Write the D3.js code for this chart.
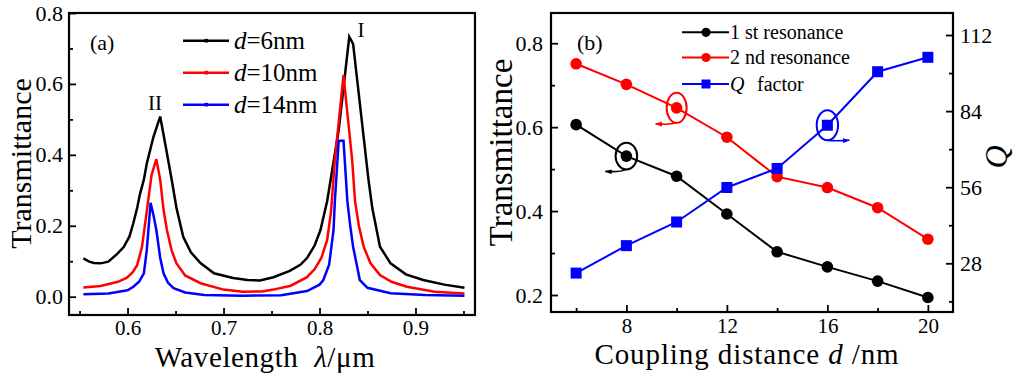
<!DOCTYPE html>
<html><head><meta charset="utf-8">
<script src="https://cdn.jsdelivr.net/npm/d3@7"></script>
<style>
body{margin:0;background:#fff}
svg{display:block}
text{font-family:"Liberation Serif","Times New Roman",serif;fill:#000}
</style>
</head><body>
<svg id="c" width="1024" height="378"></svg>
<script>
// ---------- Panel (a): transmittance spectra [wavelength (um), T] ----------
const spectrumD6 = [[0.554,0.108],[0.560,0.099],[0.565,0.095],[0.572,0.094],[0.580,0.099],[0.589,0.120],[0.596,0.140],[0.602,0.170],[0.606,0.207],[0.610,0.250],[0.613,0.290],[0.617,0.330],[0.620,0.375],[0.627,0.451],[0.634,0.508],[0.640,0.420],[0.646,0.330],[0.651,0.250],[0.658,0.169],[0.666,0.125],[0.676,0.095],[0.690,0.066],[0.710,0.053],[0.725,0.047],[0.738,0.046],[0.752,0.055],[0.769,0.073],[0.780,0.090],[0.787,0.109],[0.795,0.145],[0.801,0.188],[0.808,0.270],[0.820,0.470],[0.831,0.733],[0.835,0.713],[0.851,0.330],[0.855,0.250],[0.863,0.141],[0.874,0.094],[0.890,0.063],[0.908,0.047],[0.930,0.034],[0.951,0.025]];
const spectrumD10 = [[0.554,0.026],[0.572,0.030],[0.590,0.042],[0.599,0.053],[0.605,0.068],[0.610,0.089],[0.615,0.140],[0.620,0.240],[0.625,0.343],[0.630,0.388],[0.634,0.330],[0.6375,0.245],[0.641,0.188],[0.646,0.130],[0.651,0.094],[0.660,0.060],[0.676,0.038],[0.700,0.020],[0.720,0.014],[0.740,0.015],[0.752,0.020],[0.770,0.031],[0.787,0.055],[0.795,0.078],[0.802,0.110],[0.808,0.160],[0.812,0.240],[0.816,0.386],[0.825,0.625],[0.834,0.386],[0.837,0.270],[0.841,0.200],[0.846,0.141],[0.853,0.095],[0.863,0.061],[0.875,0.042],[0.891,0.028],[0.920,0.014],[0.951,0.009]];
const spectrumD14 = [[0.554,0.007],[0.580,0.009],[0.600,0.018],[0.606,0.028],[0.612,0.042],[0.617,0.066],[0.620,0.130],[0.624,0.265],[0.627,0.230],[0.630,0.188],[0.634,0.110],[0.6375,0.066],[0.642,0.040],[0.648,0.024],[0.660,0.012],[0.680,0.005],[0.720,0.003],[0.760,0.004],[0.787,0.016],[0.800,0.034],[0.804,0.047],[0.810,0.090],[0.8146,0.188],[0.816,0.270],[0.820,0.440],[0.825,0.440],[0.829,0.270],[0.832,0.200],[0.835,0.141],[0.842,0.047],[0.850,0.025],[0.874,0.010],[0.910,0.005],[0.951,0.003]];
const legendA = ["6nm","10nm","14nm"];
const colorsA = ["#000000","#ff0000","#0000ff"];
const xTicksA = [0.6,0.7,0.8,0.9];
const xMinorA = [0.55,0.65,0.75,0.85,0.95];
const yTicksA = [0,0.2,0.4,0.6,0.8];
const yMinorA = [0.1,0.3,0.5,0.7];

// ---------- Panel (b): vs coupling distance ----------
const distance = [6,8,10,12,14,16,18,20];
const firstRes = [0.606,0.531,0.483,0.393,0.303,0.267,0.233,0.194];
const secondRes = [0.751,0.702,0.646,0.576,0.482,0.456,0.408,0.333];
const qFactor = [24.4,34.5,43.2,55.9,62.9,78.8,98.5,103.8];
const xTicksB = [8,12,16,20];
const xMinorB = [6,10,14,18];
const yTicksBL = [0.2,0.4,0.6,0.8];
const yMinorBL = [0.3,0.5,0.7];
const yTicksBR = [28,56,84,112];
const yMinorBR = [14,42,70,98];

const svg = d3.select("#c");
const defs = svg.append("defs");
[["arrK","#000"],["arrR","#ff0000"],["arrB","#0000ff"]].forEach(([id,c])=>{
  defs.append("marker").attr("id",id).attr("viewBox","0 0 10 10").attr("refX",9).attr("refY",5)
    .attr("markerWidth",7).attr("markerHeight",7).attr("markerUnits","userSpaceOnUse").attr("orient","auto")
    .append("path").attr("d","M0,1.5 L10,5 L0,8.5 Z").attr("fill",c);
});

function styleAxis(g, fs){
  g.select(".domain").remove();
  g.selectAll(".tick line").attr("stroke","#000").attr("stroke-width",1.8);
  g.selectAll(".tick text").style("font-size",fs).attr("fill","#000");
}
function drawAxis(mk, tr, major, minor, fmt, pad, fs){
  const g1 = svg.append("g").attr("transform",tr)
    .call(mk().tickValues(major).tickSizeInner(-7).tickSizeOuter(0).tickPadding(pad).tickFormat(fmt));
  styleAxis(g1, fs);
  const g2 = svg.append("g").attr("transform",tr)
    .call(mk().tickValues(minor).tickSizeInner(-4).tickSizeOuter(0).tickFormat(""));
  styleAxis(g2, fs);
}

// ===== Panel (a) =====
const A = {l:69,t:13,r:475,b:315};
const xa = d3.scaleLinear().domain([0.539,0.962]).range([A.l,A.r]);
const ya = d3.scaleLinear().domain([-0.0516,0.8]).range([A.b,A.t]);
drawAxis(()=>d3.axisBottom(xa), `translate(0,${A.b})`, xTicksA, xMinorA, d3.format(".1f"), 5.5, "21px");
drawAxis(()=>d3.axisLeft(ya), `translate(${A.l},0)`, yTicksA, yMinorA, d3.format(".1f"), 6, "22px");
svg.append("rect").attr("x",A.l).attr("y",A.t).attr("width",A.r-A.l).attr("height",A.b-A.t)
  .attr("fill","none").attr("stroke","#000").attr("stroke-width",2.2);

const lineA = d3.line().x(d=>xa(d[0])).y(d=>ya(d[1]));
[spectrumD6,spectrumD10,spectrumD14].forEach((s,i)=>{
  svg.append("path").attr("d",lineA(s)).attr("fill","none").attr("stroke",colorsA[i]).attr("stroke-width",2.5);
});
// legend (a)
legendA.forEach((lab,i)=>{
  const y = 40.7 + i*32;
  svg.append("line").attr("x1",183).attr("x2",229).attr("y1",y).attr("y2",y).attr("stroke",colorsA[i]).attr("stroke-width",2.5);
  svg.append("rect").attr("x",204.5).attr("y",y-1.8).attr("width",3.6).attr("height",3.6).attr("fill",colorsA[i]);
  const t = svg.append("text").attr("x",234).attr("y",y+8.5).style("font-size","25px");
  t.append("tspan").style("font-style","italic").text("d");
  t.append("tspan").text("="+lab);
});
svg.append("text").attr("x",90).attr("y",50).style("font-size","22px").text("(a)");
svg.append("text").attr("x",155).attr("y",110).attr("text-anchor","middle").style("font-size","21px").text("II");
svg.append("text").attr("x",361).attr("y",37).attr("text-anchor","middle").style("font-size","21px").text("I");
// axis titles (a)
const xtA = svg.append("text").attr("x",265).attr("y",366.5).attr("text-anchor","middle").style("font-size","29px").style("letter-spacing","0.6px");
xtA.append("tspan").text("Wavelength\u00a0\u00a0");
xtA.append("tspan").style("font-style","italic").text("\u03bb");
xtA.append("tspan").text("/\u03bcm");
svg.append("text").attr("transform","translate(31,163.5) rotate(-90)").attr("text-anchor","middle").style("font-size","30px").text("Transmittance");

// ===== Panel (b) =====
const B = {l:551,t:13,r:953,b:312};
const xb = d3.scaleLinear().domain([5,21]).range([B.l,B.r]);
const ybL = d3.scaleLinear().domain([0.1595,0.872]).range([B.b,B.t]);
const ybR = d3.scaleLinear().domain([10.08,120.1]).range([B.b,B.t]);
drawAxis(()=>d3.axisBottom(xb), `translate(0,${B.b})`, xTicksB, xMinorB, d3.format("d"), 6.5, "21px");
drawAxis(()=>d3.axisLeft(ybL), `translate(${B.l},0)`, yTicksBL, yMinorBL, d3.format(".1f"), 8, "22px");
drawAxis(()=>d3.axisRight(ybR), `translate(${B.r},0)`, yTicksBR, yMinorBR, d3.format("d"), 7, "22px");
svg.append("rect").attr("x",B.l).attr("y",B.t).attr("width",B.r-B.l).attr("height",B.b-B.t)
  .attr("fill","none").attr("stroke","#000").attr("stroke-width",2.2);

const seriesB = [
  {vals:firstRes, y:ybL, color:"#000000", shape:"circle"},
  {vals:secondRes, y:ybL, color:"#ff0000", shape:"circle"},
  {vals:qFactor, y:ybR, color:"#0000ff", shape:"square"}
];
seriesB.forEach(s=>{
  const pts = distance.map((d,i)=>[xb(d), s.y(s.vals[i])]);
  svg.append("path").attr("d",d3.line()(pts)).attr("fill","none").attr("stroke",s.color).attr("stroke-width",2);
  pts.forEach(p=>{
    if(s.shape==="circle") svg.append("circle").attr("cx",p[0]).attr("cy",p[1]).attr("r",5.8).attr("fill",s.color);
    else svg.append("rect").attr("x",p[0]-5.5).attr("y",p[1]-5.5).attr("width",11).attr("height",11).attr("fill",s.color);
  });
});
// annotation ellipses with arrows
const ann = [
  {cx:xb(distance[1]), cy:ybL(firstRes[1]), rx:10.8, ry:13.3, color:"#000", m:"arrK", dx:-21, dy:2},
  {cx:xb(distance[2]), cy:ybL(secondRes[2]), rx:10, ry:15, color:"#ff0000", m:"arrR", dx:-21, dy:1},
  {cx:xb(distance[5]), cy:ybR(qFactor[5]), rx:10.7, ry:15, color:"#0000ff", m:"arrB", dx:22, dy:0}
];
ann.forEach(a=>{
  svg.append("ellipse").attr("cx",a.cx).attr("cy",a.cy).attr("rx",a.rx).attr("ry",a.ry)
    .attr("fill","none").attr("stroke",a.color).attr("stroke-width",2);
  const y0 = a.cy+a.ry;
  svg.append("path").attr("d",`M${a.cx},${y0} Q${a.cx+a.dx*0.3},${y0+a.dy+1} ${a.cx+a.dx},${y0+a.dy}`)
    .attr("fill","none").attr("stroke",a.color).attr("stroke-width",1.6).attr("marker-end",`url(#${a.m})`);
});
// legend (b)
const legB = [["1 st resonance",null],["2 nd resonance",null],["factor","Q"]];
[32.3,57.5,84].forEach((y,i)=>{
  const s = seriesB[i];
  svg.append("line").attr("x1",682).attr("x2",729).attr("y1",y).attr("y2",y).attr("stroke",s.color).attr("stroke-width",2);
  if(s.shape==="circle") svg.append("circle").attr("cx",706).attr("cy",y).attr("r",4.6).attr("fill",s.color);
  else svg.append("rect").attr("x",701.5).attr("y",y-4.5).attr("width",9).attr("height",9).attr("fill",s.color);
  if(legB[i][1]){
    svg.append("text").attr("x",730).attr("y",y+6.8).style("font-size","20px").style("font-style","italic").text(legB[i][1]);
    svg.append("text").attr("x",757).attr("y",y+6.8).style("font-size","20px").text(legB[i][0]);
  } else {
    svg.append("text").attr("x",730).attr("y",y+6.8).style("font-size","20px").text(legB[i][0]);
  }
});
svg.append("text").attr("x",577).attr("y",50).style("font-size","22px").text("(b)");
// axis titles (b)
const xtB = svg.append("text").attr("x",747).attr("y",364).attr("text-anchor","middle").style("font-size","29px").style("letter-spacing","0.9px");
xtB.append("tspan").text("Coupling distance ");
xtB.append("tspan").style("font-style","italic").text("d");
xtB.append("tspan").text(" /nm");
svg.append("text").attr("transform","translate(512,152.5) rotate(-90)").attr("text-anchor","middle").style("font-size","33px").text("Transmittance");
svg.append("text").attr("transform","translate(1007,157) rotate(-90)").attr("text-anchor","middle").style("font-size","32px").style("font-style","italic").text("Q");
</script>
</body></html>
